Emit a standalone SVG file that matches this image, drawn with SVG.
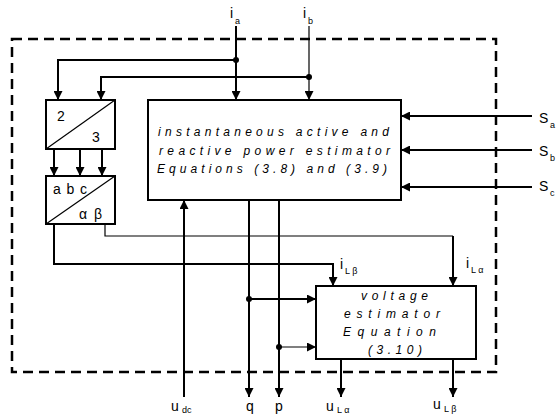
<svg xmlns="http://www.w3.org/2000/svg" width="560" height="417" viewBox="0 0 560 417">
<defs>
<marker id="ah" markerUnits="userSpaceOnUse" markerWidth="9" markerHeight="9" refX="9" refY="4.5" orient="auto" viewBox="0 0 9 9">
<path d="M0,0 L9,4.5 L0,9 z" fill="#000"/>
</marker>
</defs>
<style>
.box{fill:#fff;stroke:#000;stroke-width:2}
.ln{fill:none;stroke:#000;stroke-width:2}
.thin{fill:none;stroke:#000;stroke-width:1.2}
.dash{fill:none;stroke:#000;stroke-width:2.5;stroke-dasharray:10 6}
.t{font-family:"Liberation Sans",Arial,sans-serif;font-size:14px;fill:#000}
.s{font-family:"Liberation Sans",Arial,sans-serif;font-size:9px;fill:#000}
.it{font-family:"Liberation Sans",Arial,sans-serif;font-size:12px;font-style:italic;fill:#000}
</style>
<rect width="560" height="417" fill="#fff"/>
<rect class="dash" x="12" y="39" width="484" height="333"/>
<g id="connectors">
<path class="ln" d="M236,26 V100" marker-end="url(#ah)"/>
<path class="thin" d="M309,26 V100" marker-end="url(#ah)"/>
<path class="ln" d="M236,60 H58 V100" marker-end="url(#ah)"/>
<path class="ln" d="M309,77 H101 V100" marker-end="url(#ah)"/>
<circle cx="236" cy="60" r="3"/>
<circle cx="309" cy="77" r="3"/>
<path class="ln" d="M54,149 V176" marker-end="url(#ah)"/>
<path class="ln" d="M80,149 V176" marker-end="url(#ah)"/>
<path class="ln" d="M102,149 V176" marker-end="url(#ah)"/>
<path class="ln" d="M532,116 H401" marker-end="url(#ah)"/>
<path class="ln" d="M532,150 H401" marker-end="url(#ah)"/>
<path class="ln" d="M532,187 H401" marker-end="url(#ah)"/>
<path class="ln" d="M184,397 V200" marker-end="url(#ah)"/>
<path class="ln" d="M54,224 V264 H333 V286" marker-end="url(#ah)"/>
<path class="thin" d="M105,224 V236 H453"/>
<path class="ln" d="M453,236 V286" marker-end="url(#ah)"/>
<path class="ln" d="M249,200 V397" marker-end="url(#ah)"/>
<path class="ln" d="M279,200 V397" marker-end="url(#ah)"/>
<path class="ln" d="M249,299 H316" marker-end="url(#ah)"/>
<path class="thin" d="M279,347 H316" marker-end="url(#ah)"/>
<circle cx="249" cy="299" r="3"/>
<circle cx="279" cy="347" r="3"/>
<path class="ln" d="M341,359 V397" marker-end="url(#ah)"/>
<path class="ln" d="M453,359 V397" marker-end="url(#ah)"/>
</g>
<g id="n23">
<rect class="box" x="46" y="100" width="69" height="49"/>
<line class="thin" x1="46" y1="149" x2="115" y2="100"/>
<text class="t" x="57" y="121">2</text>
<text class="t" x="92" y="142">3</text>
</g>
<g id="nabc">
<rect class="box" x="46" y="176" width="69" height="48"/>
<line class="thin" x1="46" y1="224" x2="115" y2="176"/>
<text class="t" x="53" y="194" textLength="34" lengthAdjust="spacing">abc</text>
<text class="t" x="79" y="219" textLength="23" lengthAdjust="spacing">αβ</text>
</g>
<g id="npower">
<rect class="box" x="148" y="100" width="253" height="100"/>
<text class="it" x="158" y="136" textLength="231" lengthAdjust="spacing">instantaneous active and</text>
<text class="it" x="159" y="155" textLength="231" lengthAdjust="spacing">reactive power estimator</text>
<text class="it" x="157" y="173" textLength="230" lengthAdjust="spacing">Equations (3.8) and (3.9)</text>
</g>
<g id="nvoltage">
<rect class="box" x="316" y="286" width="160" height="73"/>
<text class="it" x="361" y="300" textLength="67" lengthAdjust="spacing">voltage</text>
<text class="it" x="344" y="318" textLength="96" lengthAdjust="spacing">estimator</text>
<text class="it" x="343" y="336" textLength="93" lengthAdjust="spacing">Equation</text>
<text class="it" x="368" y="354" textLength="54" lengthAdjust="spacing">(3.10)</text>
</g>
<g id="labels">
<text class="t" x="230" y="18">i</text><text class="s" x="235" y="24">a</text>
<text class="t" x="303" y="18">i</text><text class="s" x="308" y="24">b</text>
<text class="t" x="539" y="123">S</text><text class="s" x="550" y="128">a</text>
<text class="t" x="539" y="156">S</text><text class="s" x="550" y="161">b</text>
<text class="t" x="539" y="191">S</text><text class="s" x="550" y="196">c</text>
<text class="t" x="340" y="269">i</text><text class="s" x="345" y="274">L β</text>
<text class="t" x="466" y="268">i</text><text class="s" x="471" y="273">L α</text>
<text class="t" x="171" y="411">u</text><text class="s" x="182" y="413">dc</text>
<text class="t" x="246" y="411">q</text>
<text class="t" x="275" y="411">p</text>
<text class="t" x="326" y="411">u</text><text class="s" x="337" y="413">L α</text>
<text class="t" x="433" y="409">u</text><text class="s" x="444" y="412">L β</text>
</g>
</svg>
